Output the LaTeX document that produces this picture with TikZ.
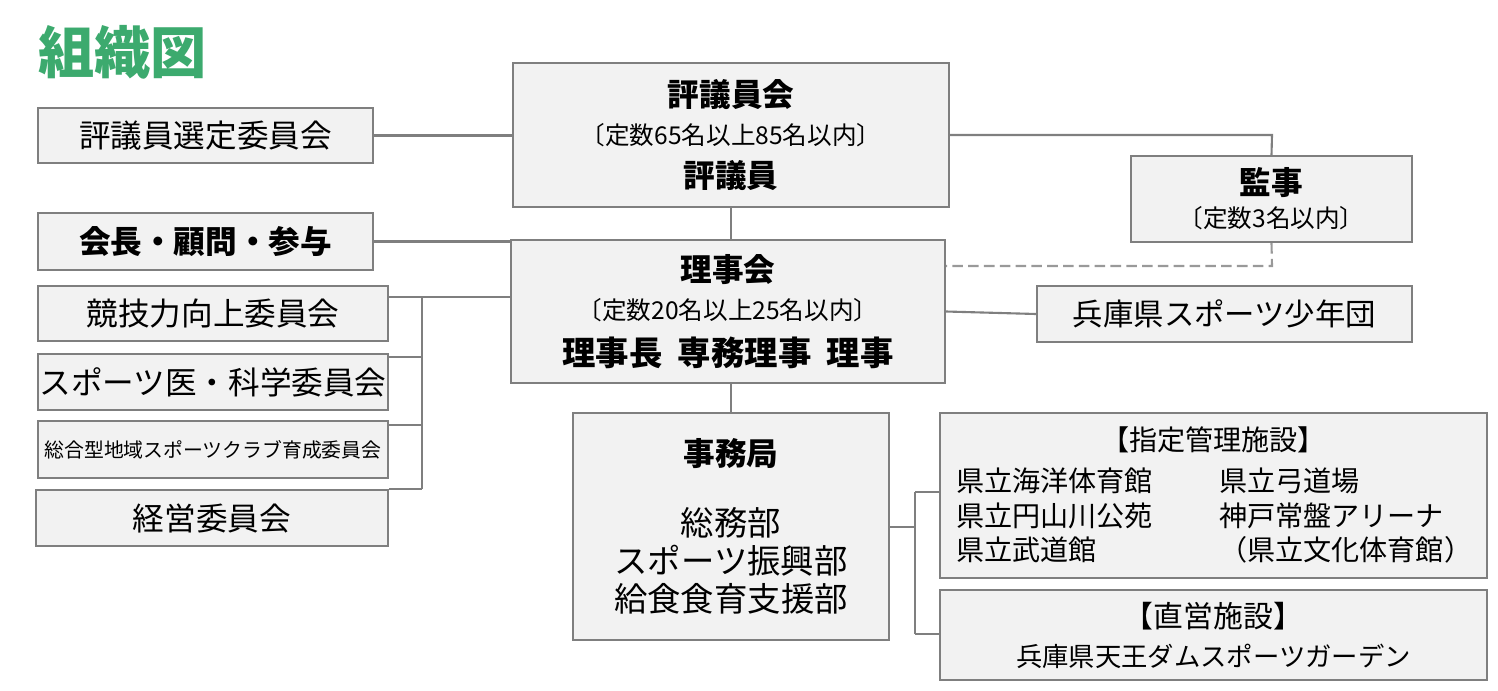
\documentclass[tikz,border=0pt]{standalone}
\usepackage{fontspec}
\setmainfont{Noto Sans CJK JP}
\usetikzlibrary{positioning}
\definecolor{boxfill}{HTML}{F2F2F2}
\definecolor{boxline}{HTML}{7F7F7F}
\definecolor{titlegreen}{HTML}{3CAA6E}
\tikzset{
  box/.style={rectangle, draw=boxline, line width=1.2pt, fill=boxfill, align=center, inner sep=0pt},
  link/.style={draw=boxline, line width=1.2pt},
  big/.style={font=\fontsize{18}{22}\selectfont},
  mid/.style={font=\fontsize{16}{20}\selectfont},
}
\begin{document}
\begin{tikzpicture}[x=0.02cm, y=-0.02cm]
        \useasboundingbox (0,0) rectangle (1498,690);

        % Title
        \node (title) [anchor=west, text=titlegreen, font=\fontsize{32}{36}\selectfont\bfseries] at (32,52) {組織図};

        % Left column
        \node (sel) [box, big, minimum width=6.7cm, minimum height=1.1cm] at (205.5,135.5) {評議員選定委員会};
        \node (kaicho) [box, minimum width=6.7cm, minimum height=1.14cm, font=\fontsize{18}{22}\selectfont\bfseries] at (205.5,241.5) {会長・顧問・参与};
        \node (kyogi) [box, big, minimum width=7cm, minimum height=1.1cm] at (213,313.5) {競技力向上委員会};
        \node (ika) [box, big, minimum width=7cm, minimum height=1.12cm] at (213,382) {スポーツ医・科学委員会};
        \node (sogo) [box, minimum width=7cm, minimum height=1.14cm, font=\fontsize{11.3}{13}\selectfont] at (213,449.5) {総合型地域スポーツクラブ育成委員会};
        \node (keiei) [box, big, minimum width=7.04cm, minimum height=1.12cm] at (212,518) {経営委員会};

        % Centre column
        \node (hyo) [box, minimum width=8.72cm, minimum height=2.88cm] at (731,135) {%
          {\fontsize{18}{22}\selectfont\bfseries 評議員会}\\[7pt]
          {\fontsize{14}{17}\selectfont 〔定数65名以上85名以内〕}\\[7pt]
          {\fontsize{18}{22}\selectfont\bfseries 評議員}};
        \node (rij) [box, minimum width=8.68cm, minimum height=2.86cm] at (728,311.5) {%
          {\fontsize{18}{22}\selectfont\bfseries 理事会}\\[7pt]
          {\fontsize{14}{17}\selectfont 〔定数20名以上25名以内〕}\\[7pt]
          {\fontsize{19}{23}\selectfont\bfseries 理事長\ \ 専務理事\ \ 理事}};
        \node (jim) [box, minimum width=6.32cm, minimum height=4.54cm] at (731,526.5) {%
          {\fontsize{18}{22}\selectfont\bfseries 事務局}\\[21pt]
          {\fontsize{19}{23}\selectfont 総務部}\\[3pt]
          {\fontsize{19}{23}\selectfont スポーツ振興部}\\[3pt]
          {\fontsize{19}{23}\selectfont 給食食育支援部}};

        % Right column
        \node (kanji) [box, minimum width=5.62cm, minimum height=1.72cm] at (1271.5,199) {%
          {\fontsize{18}{22}\selectfont\bfseries 監事}\\[4pt]
          {\fontsize{14}{17}\selectfont 〔定数3名以内〕}};
        \node (shonen) [box, font=\fontsize{17.3}{21}\selectfont, minimum width=7.5cm, minimum height=1.12cm] at (1224.5,314) {兵庫県スポーツ少年団};
        \node (shitei) [box, minimum width=10.94cm, minimum height=3.3cm] at (1213.5,495.5) {};
        \node (shiteiT) [mid] at (1213.5,440) {【指定管理施設】};
        \node (fa) [mid, anchor=west] at (950,481) {県立海洋体育館};
        \node (fb) [mid, anchor=west] at (950,516) {県立円山川公苑};
        \node (fc) [mid, anchor=west] at (950,550) {県立武道館};
        \node (fd) [mid, anchor=west] at (1213,481) {県立弓道場};
        \node (fe) [mid, anchor=west] at (1213,516) {神戸常盤アリーナ};
        \node (ff) [mid, anchor=west] at (1213,550) {（県立文化体育館）};
        \node (choku) [box, minimum width=10.94cm, minimum height=1.8cm] at (1213.5,635) {%
          {\fontsize{17}{20}\selectfont 【直営施設】}\\[7pt]
          {\fontsize{15}{18}\selectfont 兵庫県天王ダムスポーツガーデン}};

        % Connectors
        \coordinate (kp) at (1272,135);
        \coordinate (kd) at (1272,266);
        \coordinate (br) at (422,297);
        \coordinate (jb) at (915,527);
        \draw [link] (sel.east) -- (sel.east -| hyo.west);
        \draw [link] (hyo.south) -- (hyo.south |- rij.north);
        \draw [link] (hyo.east |- kp) -- (kp) -- (kanji.north);
        \draw [link, draw=boxline!80, dash pattern=on 6pt off 3pt] (kanji.south) -- (kd) -- (kd -| rij.east);
        \draw [link] (kaicho.east) -- (kaicho.east -| rij.west);
        \draw [link] (br -| rij.west) -- (br -| kyogi.east);
        \draw [link] (br) -- (br |- keiei.north);
        \draw [link] (br |- 0,357) -- (ika.east |- 0,357);
        \draw [link] (br |- 0,425) -- (sogo.east |- 0,425);
        \draw [link] (br |- keiei.north) -- (keiei.north east);
        \draw [link] (rij.east) -- (shonen.west);
        \draw [link] (jim.north |- rij.south) -- (jim.north);
        \draw [link] (jim.east |- jb) -- (jb);
        \draw [link] (jb |- 0,492) -- (jb |- 0,634);
        \draw [link] (jb |- 0,492) -- (shitei.west |- 0,492);
        \draw [link] (jb |- 0,634) -- (choku.west |- 0,634);
\end{tikzpicture}
\end{document}
